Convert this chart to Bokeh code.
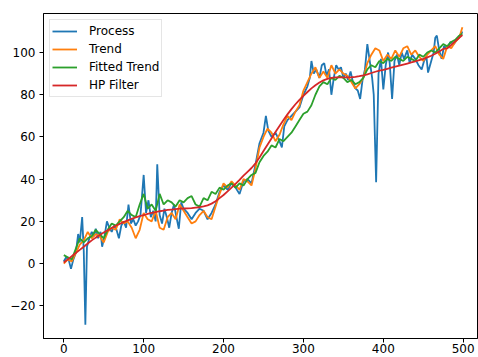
from bokeh.plotting import figure
from bokeh.models import Range1d, FixedTicker
from bokeh.embed import file_html
from bokeh.resources import INLINE

# ---- data ----
x_grid = list(range(0, 500, 5)) + [499]

trend = [0, 2, 1, 5, 9, 11, 15, 12, 14, 13,
         10, 15, 17, 16, 21, 19, 20, 17, 12, 16,
         24, 21, 20, 25, 17, 16, 22, 24, 21, 28,
         25, 22, 19, 20, 23, 25, 22, 21, 27, 33,
         38, 36, 39, 37, 35, 40, 39, 37, 45, 55,
         60, 64, 62, 58, 61, 66, 70, 68, 72, 75,
         82, 86, 90, 93, 88, 91, 88, 94, 90, 92,
         90, 89, 86, 83, 85, 88, 95, 99, 102, 101,
         96, 99, 97, 101, 98, 102, 103, 99, 101, 98,
         96, 99, 101, 103, 99, 97, 103, 102, 105, 107,
         112]

fitted_trend = [4, 3, 2, 7, 12, 10, 12, 13, 16, 14,
                12, 16, 19, 18, 20, 22, 25, 23, 22, 28,
                33, 26, 28, 25, 33, 28, 30, 29, 27, 30,
                29, 31, 32, 28, 27, 31, 30, 34, 33, 36,
                35, 37, 38, 36, 38, 37, 40, 42, 43, 48,
                51, 53, 56, 55, 59, 58, 60, 62, 65, 68,
                71, 72, 75, 80, 84, 86, 85, 88, 87, 89,
                88, 86, 87, 85, 86, 88, 92, 94, 93, 96,
                95, 97, 96, 98, 97, 96, 98, 97, 96, 99,
                98, 100, 101, 100, 102, 104, 103, 105, 106, 108,
                109]

hp_filter = [0.5, 2, 3.5, 5, 6.5, 8, 9.5, 11, 12.3, 13.5,
             14.7, 15.8, 16.9, 17.9, 18.8, 19.7, 20.5, 21.2, 21.9, 22.5,
             23, 23.5, 24, 24.4, 24.8, 25.1, 25.4, 25.6, 25.8, 26,
             26.1, 26.2, 26.3, 26.5, 26.7, 27.1, 27.6, 28.4, 29.5, 31,
             32.5, 34.2, 36, 37.8, 39.7, 41.7, 43.5, 45.3, 47.5, 50.3,
             53.3, 56.3, 59.3, 62.3, 65.2, 68, 70.7, 73.2, 75.5, 77.6,
             79.5, 81.3, 83, 84.5, 85.8, 86.8, 87.5, 88, 88.2, 88.2,
             88.2, 88.2, 88.3, 88.5, 88.8, 89.2, 89.7, 90.3, 90.9, 91.4,
             91.8, 92.3, 92.8, 93.3, 93.8, 94.3, 94.8, 95.3, 95.8, 96.4,
             97, 97.7, 98.5, 99.4, 100.5, 101.7, 102, 103.6, 105.3, 107,
             108.3]

process_x = [0, 3, 6, 9, 12, 15, 18, 20, 23, 25, 27, 29, 32, 35, 38, 40, 43, 46, 48, 51,
             54, 57, 60, 63, 66, 69, 72, 75, 78, 81, 84, 87, 90, 93, 96, 100, 103, 106, 109, 112,
             115, 117, 120, 123, 126, 129, 132, 135, 138, 141, 144, 147, 150, 155, 160, 165, 170, 175, 180, 185,
             190, 195, 200, 205, 210, 215, 220, 225, 230, 235, 240, 245, 250, 253, 256, 260, 265, 270, 273, 276,
             280, 285, 290, 295, 300, 305, 308, 310, 313, 316, 320, 323, 326, 329, 332, 335, 338, 341, 344, 347,
             350, 353, 356, 359, 362, 365, 368, 371, 374, 377, 380, 383, 386, 388, 391, 394, 397, 400, 403, 406,
             408, 411, 414, 417, 420, 423, 426, 430, 433, 436, 440, 444, 448, 451, 454, 456, 460, 463, 465, 467,
             470, 473, 476, 480, 484, 488, 492, 496, 499]
process_y = [1, 3, 2, -2.5, 2, 5, 14, 10, 22, 6, -29, 8, 12, 15, 13, 16.5, 12, 15, 8, 13,
             20, 17, 15, 18, 16, 12, 18, 20, 17, 28, 19, 21, 18, 20, 23, 42, 24, 30, 22, 25,
             20, 47, 23, 19, 26, 22, 17, 24, 28, 22, 16.5, 29, 26, 24, 21, 24, 26, 25, 21, 24,
             28, 34, 37, 35, 38, 36, 33, 39, 40, 38, 47, 57, 62, 70, 63, 60, 62, 58, 55, 65,
             68, 70, 72, 74, 80, 84, 88, 96, 90, 92, 88, 94, 95, 89, 92, 80, 88, 94, 92, 93,
             88, 90, 87, 91, 86, 83, 82, 78, 87, 92, 104, 96, 88, 80, 38.5, 90, 97, 82.5, 94, 100,
             95, 78, 96, 99, 94, 100, 97, 101, 95, 99, 97, 94, 92, 96, 98, 90.5, 96, 100, 107, 108,
             101, 97, 103, 102, 105, 104, 106, 108, 110]

x_ticks = [0, 100, 200, 300, 400, 500]
y_ticks = [-20, 0, 20, 40, 60, 80, 100]

# ---- figure ----
p = figure(width=478, height=357, output_backend="svg", toolbar_location=None,
           x_range=Range1d(-25.4, 517.9), y_range=Range1d(-35.5, 118.5),
           min_border_left=43, min_border_right=1, min_border_top=13, min_border_bottom=19)

p.background_fill_color = "white"
p.border_fill_color = "white"
p.outline_line_color = "black"
p.outline_line_width = 1
p.xgrid.visible = False
p.ygrid.visible = False

lw = 1.8
p.line(process_x, process_y, line_color="#1f77b4", line_width=lw, legend_label="Process")
p.line(x_grid, trend, line_color="#ff7f0e", line_width=lw, legend_label="Trend")
p.line(x_grid, fitted_trend, line_color="#2ca02c", line_width=lw, legend_label="Fitted Trend")
p.line(x_grid, hp_filter, line_color="#d62728", line_width=lw, legend_label="HP Filter")

p.xaxis.ticker = FixedTicker(ticks=x_ticks)
p.yaxis.ticker = FixedTicker(ticks=y_ticks)
p.yaxis.major_label_overrides = {-20: "\u221220"}
for ax in (p.xaxis, p.yaxis):
    ax.axis_line_color = "black"
    ax.axis_line_width = 1
    ax.major_tick_in = 0
    ax.major_tick_out = 4
    ax.minor_tick_in = 0
    ax.minor_tick_out = 0
    ax.major_tick_line_color = "black"
    ax.major_label_text_font = "DejaVu Sans"
    ax.major_label_text_font_size = "12px"
    ax.major_label_text_color = "black"
p.xaxis.major_label_standoff = 1
p.yaxis.major_label_standoff = 4

lg = p.legend[0]
lg.location = "top_left"
lg.margin = 6
lg.padding = 2
lg.spacing = 0
lg.glyph_width = 25
lg.glyph_height = 18
lg.label_height = 18
lg.label_standoff = 12
lg.label_text_font = "DejaVu Sans"
lg.label_text_font_size = "12px"
lg.label_text_color = "black"
lg.border_line_color = "#cccccc"
lg.border_line_width = 1
lg.background_fill_alpha = 0.8

open("out.html", "w").write(file_html(p, INLINE))
